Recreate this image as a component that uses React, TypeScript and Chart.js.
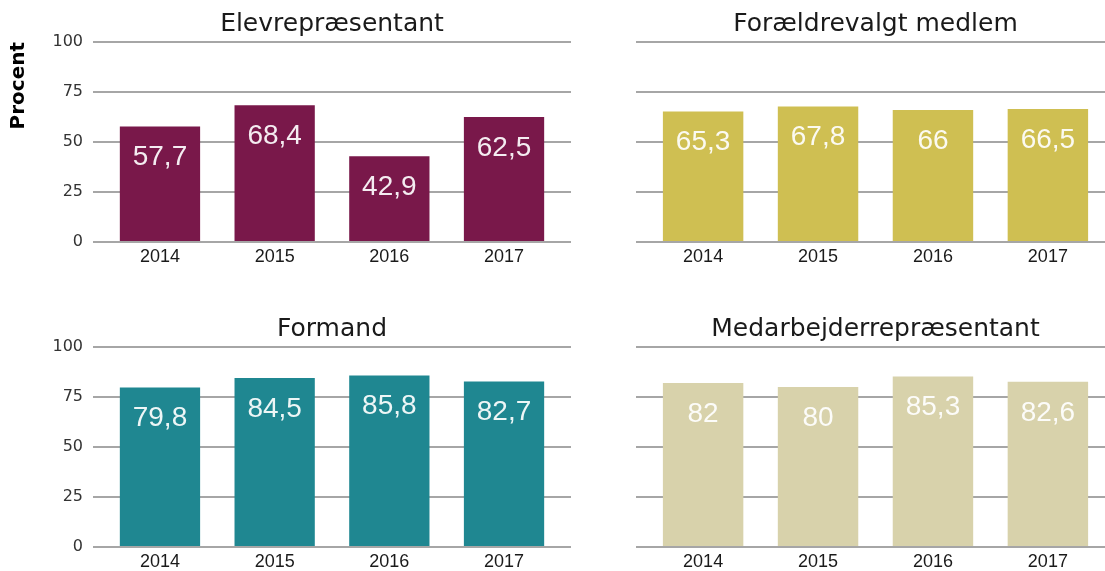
import React, { useEffect, useRef } from 'react';
import { Chart, registerables } from 'chart.js';

Chart.register(...registerables);

const years = ['2014', '2015', '2016', '2017'];
const elevValues = [57.7, 68.4, 42.9, 62.5];
const foraeldreValues = [65.3, 67.8, 66, 66.5];
const formandValues = [79.8, 84.5, 85.8, 82.7];
const medarbejderValues = [82, 80, 85.3, 82.6];
const yTicks = [0, 25, 50, 75, 100];
const panelTitles = ['Elevrepræsentant', 'Forældrevalgt medlem', 'Formand', 'Medarbejderrepræsentant'];
const panelColors = ['#79184a', '#cfbf52', '#1f8791', '#d8d2ab'];
const yAxisTitle = 'Procent';

const GRID_COLOR = '#a6a6a6';

const barLabels = {
  id: 'barLabels',
  afterDatasetsDraw(chart: any) {
    const ctx = chart.ctx;
    const meta = chart.getDatasetMeta(0);
    const ds = chart.data.datasets[0];
    ctx.save();
    ctx.font = '28px "Liberation Sans", Arial, sans-serif';
    ctx.fillStyle = 'rgba(255,255,255,0.92)';
    ctx.textAlign = 'center';
    ctx.textBaseline = 'middle';
    meta.data.forEach((bar: any, i: number) => {
      const v = ds.data[i].y;
      ctx.fillText(String(v).replace('.', ','), bar.x, bar.y + 31);
    });
    ctx.restore();
  },
};

type PanelProps = {
  title: string;
  values: number[];
  color: string;
  showY: boolean;
  showYTitle: boolean;
  left: number;
  top: number;
  width: number;
  height: number;
  yWidth: number;
  padRight: number;
};

function Panel({ title, values, color, showY, showYTitle, left, top, width, height, yWidth, padRight }: PanelProps) {
  const ref = useRef<HTMLCanvasElement | null>(null);
  useEffect(() => {
    if (!ref.current) return;
    const chart = new Chart(ref.current, {
      type: 'bar',
      data: {
        datasets: [
          {
            data: years.map((_, i) => ({ x: i, y: values[i] })),
            backgroundColor: color,
            borderWidth: 0,
            barPercentage: 0.7,
            categoryPercentage: 1,
          },
        ],
      },
      plugins: [barLabels],
      options: {
        responsive: false,
        animation: false,
        events: [],
        layout: { padding: { left: 0, right: padRight, top: 0, bottom: 0 } },
        plugins: {
          legend: { display: false },
          tooltip: { enabled: false },
          title: {
            display: true,
            text: title,
            fullSize: false,
            color: '#1a1a1a',
            font: { family: '"DejaVu Sans", sans-serif', size: 25, weight: 'normal', lineHeight: 1.2 },
            padding: { top: 9, bottom: 3 },
          },
        },
        scales: {
          x: {
            type: 'linear',
            min: -0.584,
            max: 3.584,
            offset: false,
            grid: { display: false, drawTicks: false, offset: false },
            border: { display: false },
            ticks: {
              stepSize: 1,
              includeBounds: false,
              autoSkip: false,
              maxRotation: 0,
              padding: 4,
              color: '#1a1a1a',
              font: { family: '"Liberation Sans", Arial, sans-serif', size: 18 },
              callback: (v: any) => (years[v as number] !== undefined ? years[v as number] : ''),
            },
            afterFit: (s: any) => {
              s.height = 38;
            },
          },
          y: {
            min: 0,
            max: 100,
            afterBuildTicks: (s: any) => {
              s.ticks = yTicks.map((v) => ({ value: v }));
            },
            grid: {
              color: GRID_COLOR,
              lineWidth: 2,
              drawTicks: false,
            },
            border: { display: false },
            ticks: {
              display: showY,
              padding: 10,
              color: '#333333',
              font: { family: '"DejaVu Sans", sans-serif', size: 16 },
            },
            title: {
              display: showYTitle,
              text: yAxisTitle,
              align: 'end',
              color: '#000000',
              font: { family: '"DejaVu Sans", sans-serif', size: 20, weight: 'bold', lineHeight: 1.2 },
              padding: { top: 7, bottom: 0 },
            },
            afterFit: (s: any) => {
              s.width = yWidth;
            },
          },
        },
      } as any,
    });
    return () => chart.destroy();
  }, [title, values, color, showY, showYTitle, width, height, yWidth, padRight]);
  return (
    <canvas
      ref={ref}
      width={width}
      height={height}
      style={{ position: 'absolute', left, top, width, height }}
    />
  );
}

export default function App() {
  return (
    <div
      style={{
        position: 'absolute',
        left: 0,
        top: 0,
        width: 1105,
        height: 571,
        overflow: 'hidden',
        background: '#ffffff',
      }}
    >
      <Panel title={panelTitles[0]} values={elevValues} color={panelColors[0]} showY={true} showYTitle={true} left={0} top={0} width={600} height={280} yWidth={93} padRight={29} />
      <Panel title={panelTitles[1]} values={foraeldreValues} color={panelColors[1]} showY={false} showYTitle={false} left={600} top={0} width={515} height={280} yWidth={36} padRight={0} />
      <Panel title={panelTitles[2]} values={formandValues} color={panelColors[2]} showY={true} showYTitle={false} left={0} top={305} width={600} height={280} yWidth={93} padRight={29} />
      <Panel title={panelTitles[3]} values={medarbejderValues} color={panelColors[3]} showY={false} showYTitle={false} left={600} top={305} width={515} height={280} yWidth={36} padRight={0} />
    </div>
  );
}
